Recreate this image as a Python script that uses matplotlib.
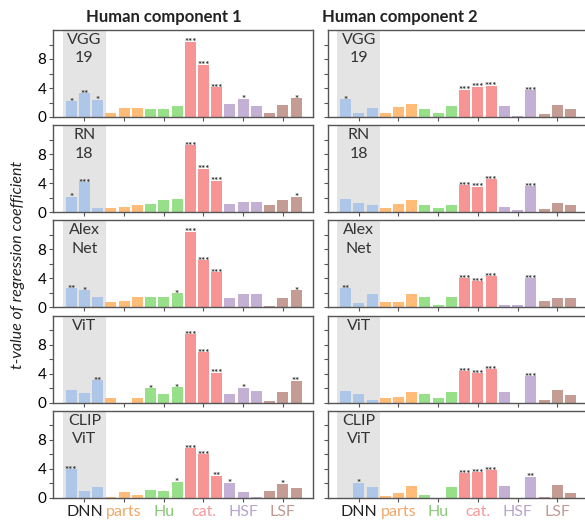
import matplotlib
matplotlib.use('Agg')
import matplotlib.pyplot as plt

# ---------------------------------------------------------------
# datos (t-values, 18 barras por panel)
# ---------------------------------------------------------------
grupos = ['DNN', 'parts', 'Hu', 'cat.', 'HSF', 'LSF']
modelos = ['VGG\n19', 'RN\n18', 'Alex\nNet', 'ViT', 'CLIP\nViT']
titulos = ['Human component 1', 'Human component 2']

vgg_c1 = [2.2, 3.3, 2.4, 0.55, 1.2, 1.2, 1.05, 1.05, 1.5, 10.4, 7.2, 4.1, 1.75, 2.5, 1.5, 0.55, 1.65, 2.6]
vgg_c1_sig = ['*', '**', '*', '', '', '', '', '', '', '***', '***', '***', '', '*', '', '', '', '*']
vgg_c2 = [2.45, 0.5, 1.2, 0.5, 1.4, 1.75, 1.05, 0.5, 1.5, 3.75, 4.2, 4.3, 1.5, 0.1, 3.7, 0.35, 1.6, 1.05]
vgg_c2_sig = ['*', '', '', '', '', '', '', '', '', '***', '***', '***', '', '', '***', '', '', '']

rn_c1 = [2.1, 4.1, 0.6, 0.6, 0.75, 1.0, 1.15, 1.7, 1.85, 9.25, 6.0, 4.35, 1.15, 1.45, 1.45, 1.0, 1.7, 2.1]
rn_c1_sig = ['*', '***', '', '', '', '', '', '', '', '***', '***', '***', '', '', '', '', '', '*']
rn_c2 = [1.85, 1.3, 1.0, 0.6, 1.15, 1.7, 1.0, 0.6, 1.0, 3.7, 3.5, 4.55, 0.75, 0.25, 3.55, 0.45, 1.3, 1.0]
rn_c2_sig = ['', '', '', '', '', '', '', '', '', '***', '***', '***', '', '', '***', '', '', '']

alex_c1 = [2.65, 2.35, 1.5, 0.7, 0.85, 1.5, 1.5, 1.4, 1.95, 10.4, 6.5, 4.85, 1.25, 1.8, 1.8, 0.15, 1.25, 2.35]
alex_c1_sig = ['**', '*', '', '', '', '', '', '', '*', '***', '***', '***', '', '', '', '', '', '*']
alex_c2 = [2.65, 0.55, 1.8, 0.7, 0.7, 1.8, 1.4, 0.4, 1.4, 4.0, 3.6, 4.3, 0.4, 0.4, 4.0, 0.85, 1.25, 1.25]
alex_c2_sig = ['**', '', '', '', '', '', '', '', '', '***', '***', '***', '', '', '***', '', '', '']

vit_c1 = [1.8, 1.35, 3.1, 0.7, 0.0, 0.7, 2.0, 1.15, 2.1, 9.45, 6.95, 4.15, 1.25, 2.05, 1.6, 0.25, 1.5, 3.0]
vit_c1_sig = ['', '', '**', '', '', '', '*', '', '*', '***', '***', '***', '', '*', '', '', '', '**']
vit_c2 = [1.6, 1.15, 0.3, 0.6, 0.75, 1.45, 1.15, 0.6, 1.45, 4.35, 4.05, 4.6, 1.45, 0.0, 3.65, 0.3, 1.7, 1.0]
vit_c2_sig = ['', '', '', '', '', '', '', '', '', '***', '***', '***', '', '', '***', '', '', '']

clip_c1 = [3.95, 0.95, 1.5, 0.15, 0.85, 0.4, 1.1, 0.95, 2.2, 6.85, 6.0, 3.05, 2.1, 0.85, 0.15, 0.95, 1.95, 1.4]
clip_c1_sig = ['***', '', '', '', '', '', '', '', '*', '***', '***', '**', '*', '', '', '', '*', '']
clip_c2 = [0.0, 2.1, 1.55, 0.3, 0.7, 1.65, 0.4, 0.0, 1.55, 3.4, 3.5, 3.8, 1.65, 0.0, 2.9, 0.15, 1.8, 0.7]
clip_c2_sig = ['', '*', '', '', '', '', '', '', '', '***', '***', '***', '', '', '**', '', '', '']

valores = [[vgg_c1, vgg_c2], [rn_c1, rn_c2], [alex_c1, alex_c2], [vit_c1, vit_c2], [clip_c1, clip_c2]]
signif = [[vgg_c1_sig, vgg_c2_sig], [rn_c1_sig, rn_c2_sig], [alex_c1_sig, alex_c2_sig],
          [vit_c1_sig, vit_c2_sig], [clip_c1_sig, clip_c2_sig]]

# colores tab20 claros, uno por grupo
colores_grupo = ['#aec7e8', '#ffbb78', '#98df8a', '#f79594', '#c5b0d5', '#c49c94']
colores_etiqueta = ['#222222', '#f0a868', '#88c878', '#f49a9a', '#b8a4cc', '#c09a92']

# ---------------------------------------------------------------
# figura
# ---------------------------------------------------------------
plt.rcParams['font.family'] = ['Lato', 'DejaVu Sans']
W, H = 585, 523
fig = plt.figure(figsize=(W / 100, H / 100), dpi=100)

col_x = [53.3, 327.7]
ancho = 260
alto = 87
spine_c = '#555555'
x = list(range(18))
colores = [c for c in colores_grupo for _ in range(3)]

for i in range(5):
    top = 30 + 95.2 * i
    for j in range(2):
        ax = fig.add_axes([col_x[j] / W, 1 - (top + alto) / H, ancho / W, alto / H])
        ax.axvspan(-0.65, 2.6, color='#e4e4e4', zorder=0, lw=0)
        bars = ax.bar(x, valores[i][j], width=0.83, color=colores, zorder=2)
        for b, s in zip(bars, signif[i][j]):
            if s:
                ax.annotate(s, (b.get_x() + b.get_width() / 2, b.get_height()),
                            xytext=(0, -2.5), textcoords='offset points',
                            ha='center', va='baseline', fontsize=7,
                            color='#333333', fontweight='bold', zorder=3)
        ax.text(1.0, 11.6, modelos[i], ha='center', va='top', fontsize=11.5,
                color='#333333', linespacing=1.4, zorder=3)
        ax.set_xlim(-1.35, 18.3)
        ax.set_ylim(0, 12)
        ax.set_yticks([0, 4, 8])
        ax.set_yticks([2, 6, 10], minor=True)
        ax.set_xticks([1, 4, 7, 10, 13, 16])
        ax.tick_params(axis='both', which='both', length=3, width=0.8,
                       color=spine_c, labelsize=11, pad=2)
        if j == 1:
            ax.set_yticklabels([])
        if i < 4:
            ax.set_xticklabels([])
        else:
            ax.set_xticklabels(grupos, fontsize=11.5)
            for lab, c in zip(ax.get_xticklabels(), colores_etiqueta):
                lab.set_color(c)
        for sp in ax.spines.values():
            sp.set_color(spine_c)
            sp.set_linewidth(1.0)
        if j == 1:
            ax.spines['right'].set_visible(False)

fig.text(164 / W, 1 - 17 / H, titulos[0], ha='center', va='center',
         fontsize=12, fontweight='bold', color='#222222')
fig.text(400 / W, 1 - 17 / H, titulos[1], ha='center', va='center',
         fontsize=12, fontweight='bold', color='#222222')
fig.text(18 / W, 1 - 265 / H, 't-value of regression coefficient', rotation=90,
         ha='center', va='center', fontsize=11.5, style='italic', color='#222222')

fig.savefig('out.png', dpi=100)
